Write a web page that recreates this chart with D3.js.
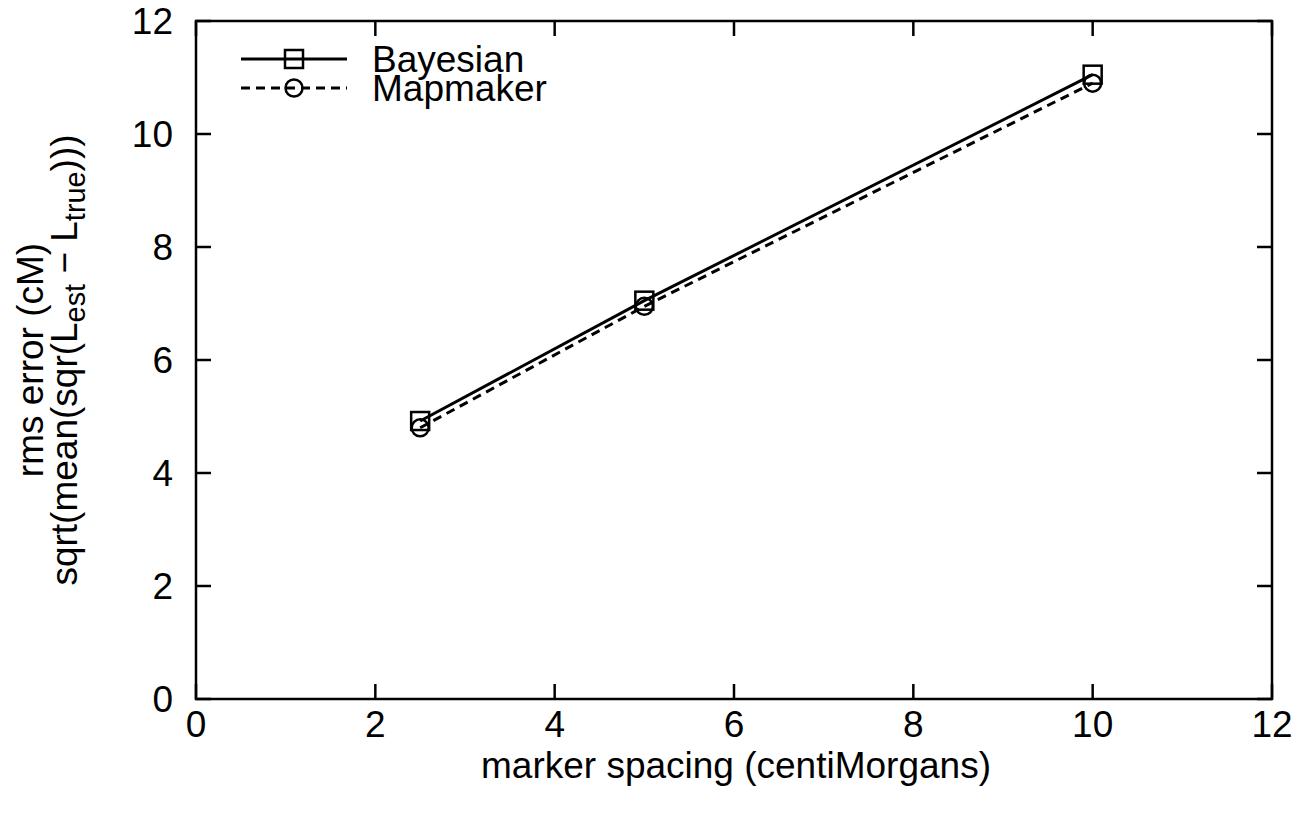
<!DOCTYPE html>
<html>
<head>
<meta charset="utf-8">
<script src="https://cdn.jsdelivr.net/npm/d3@7"></script>
<style>
  body { margin: 0; background: #fff; }
  text { font-family: "Liberation Sans", Arial, sans-serif; fill: #000; }
</style>
</head>
<body>
<div id="chart"></div>
<script>
const spacing = [2.5, 5, 10];
const bayesian = [4.92, 7.05, 11.05];
const mapmaker = [4.8, 6.95, 10.9];
const xTicks = [0, 2, 4, 6, 8, 10, 12];
const yTicks = [0, 2, 4, 6, 8, 10, 12];

const W = 1312, H = 816;
const box = {left: 196, right: 1272, top: 21, bottom: 699};
const fs = 37;

const svg = d3.select('#chart').append('svg')
    .attr('width', W)
    .attr('height', H);

const x = d3.scaleLinear().domain([0, 12]).range([box.left, box.right]);
const y = d3.scaleLinear().domain([0, 12]).range([box.bottom, box.top]);

const tickLen = 15;

// ticks on all four sides, pointing inward
const axes = svg.append('g').attr('stroke', '#000').attr('stroke-width', 2.5);
axes.selectAll('.xb').data(xTicks).enter().append('line')
    .attr('x1', d => x(d)).attr('x2', d => x(d))
    .attr('y1', box.bottom).attr('y2', box.bottom - tickLen);
axes.selectAll('.xt').data(xTicks).enter().append('line')
    .attr('x1', d => x(d)).attr('x2', d => x(d))
    .attr('y1', box.top).attr('y2', box.top + tickLen);
axes.selectAll('.yl').data(yTicks).enter().append('line')
    .attr('y1', d => y(d)).attr('y2', d => y(d))
    .attr('x1', box.left).attr('x2', box.left + tickLen);
axes.selectAll('.yr').data(yTicks).enter().append('line')
    .attr('y1', d => y(d)).attr('y2', d => y(d))
    .attr('x1', box.right).attr('x2', box.right - tickLen);

svg.append('rect')
    .attr('x', box.left).attr('y', box.top)
    .attr('width', box.right - box.left).attr('height', box.bottom - box.top)
    .attr('fill', 'none').attr('stroke', '#000').attr('stroke-width', 2.5);

// tick labels
svg.selectAll('.xl').data(xTicks).enter().append('text')
    .attr('x', d => x(d)).attr('y', box.bottom + 38)
    .attr('text-anchor', 'middle').attr('font-size', fs)
    .text(d => d);
svg.selectAll('.ylab').data(yTicks).enter().append('text')
    .attr('x', box.left - 23).attr('y', d => y(d) + 13)
    .attr('text-anchor', 'end').attr('font-size', fs)
    .text(d => d);

// axis titles
svg.append('text')
    .attr('x', (box.left + box.right) / 2 + 2).attr('y', 778)
    .attr('text-anchor', 'middle').attr('font-size', fs)
    .text('marker spacing (centiMorgans)');

const yt = svg.append('g').attr('transform', 'translate(0,360) rotate(-90)');
yt.append('text')
    .attr('x', 0).attr('y', 43)
    .attr('text-anchor', 'middle').attr('font-size', fs)
    .text('rms error (cM)');
const l2 = yt.append('text')
    .attr('x', 0).attr('y', 77)
    .attr('text-anchor', 'middle').attr('font-size', fs);
l2.append('tspan').text('sqrt(mean(sqr(L');
l2.append('tspan').attr('font-size', fs * 0.78).attr('dy', 8).text('est');
l2.append('tspan').attr('dy', -8).text(' \u2212 L');
l2.append('tspan').attr('font-size', fs * 0.78).attr('dy', 8).text('true');
l2.append('tspan').attr('dy', -8).text(')))');

// series
const line = d3.line().x(d => x(d[0])).y(d => y(d[1]));
const series = [
    {name: 'Bayesian', values: bayesian, dash: null, marker: 'square'},
    {name: 'Mapmaker', values: mapmaker, dash: '9,6', marker: 'circle'}
];

const drawMarker = (g, kind, cx, cy) => {
    if (kind === 'square') {
        g.append('rect')
            .attr('x', cx - 9).attr('y', cy - 9)
            .attr('width', 18).attr('height', 18)
            .attr('fill', 'none').attr('stroke', '#000').attr('stroke-width', 2.5);
    } else {
        g.append('circle')
            .attr('cx', cx).attr('cy', cy).attr('r', 8.5)
            .attr('fill', 'none').attr('stroke', '#000').attr('stroke-width', 2.5);
    }
};

series.forEach((s, i) => {
    const pts = spacing.map((v, j) => [v, s.values[j]]);
    svg.append('path')
        .attr('d', line(pts))
        .attr('fill', 'none').attr('stroke', '#000').attr('stroke-width', 3)
        .attr('stroke-dasharray', s.dash);
    const g = svg.append('g');
    pts.forEach(p => drawMarker(g, s.marker, x(p[0]), y(p[1])));

    // legend entry
    const ly = 59 + i * 29;
    svg.append('line')
        .attr('x1', 241).attr('x2', 347).attr('y1', ly).attr('y2', ly)
        .attr('stroke', '#000').attr('stroke-width', 3)
        .attr('stroke-dasharray', s.dash);
    drawMarker(svg.append('g'), s.marker, 294, ly);
    svg.append('text')
        .attr('x', 372).attr('y', ly + 13)
        .attr('font-size', fs)
        .text(s.name);
});
</script>
</body>
</html>
